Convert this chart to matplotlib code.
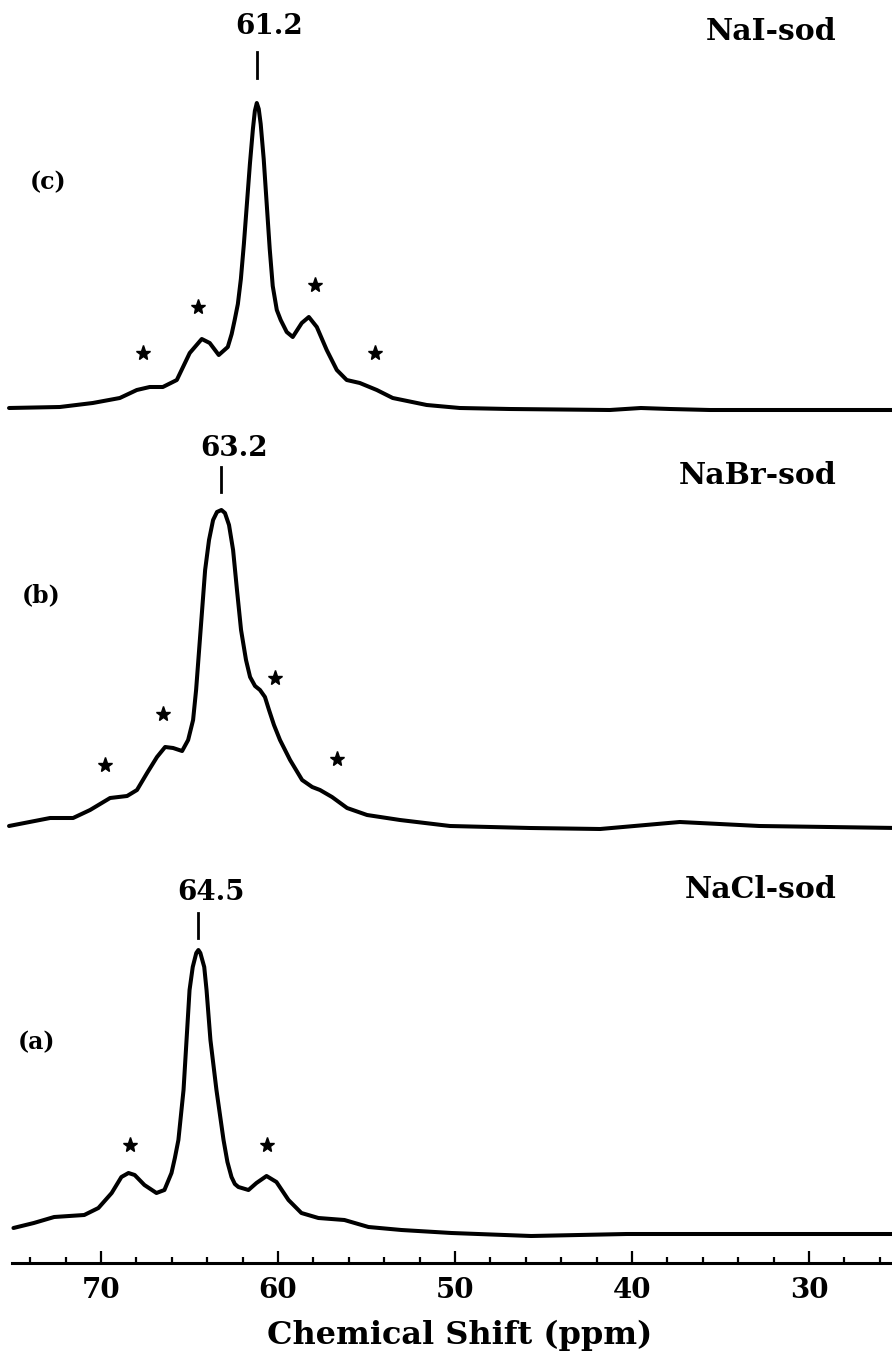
import matplotlib
matplotlib.use("Agg")
import matplotlib.pyplot as plt
from matplotlib.ticker import MultipleLocator

# --- spectra: chemical shift (ppm) and intensity (arbitrary units) ---
shift_a = [74.95, 73.80, 72.65, 70.95, 70.15, 69.40, 68.85, 68.45, 68.10, 67.55,
           66.87, 66.42, 66.02, 65.83, 65.63, 65.34, 65.17, 65.00, 64.82, 64.62,
           64.50, 64.39, 64.17, 64.04, 63.82, 63.48, 63.08, 62.86, 62.63, 62.44,
           62.24, 61.67, 61.22, 60.65, 60.09, 59.41, 58.68, 57.72, 56.25, 54.89,
           53.03, 50.20, 45.70, 40.30, 34.00, 25.00]
int_a = [12, 17, 23, 25, 32, 47, 63, 67, 65, 55,
         47, 50, 67, 82, 100, 150, 200, 250, 273, 287,
         290, 287, 273, 250, 200, 150, 100, 78, 63, 56,
         53, 50, 57, 64, 58, 40, 27, 22, 20, 13,
         10, 7, 4, 6, 6, 6]

shift_b = [75.20, 72.88, 71.58, 70.62, 69.49, 68.53, 67.97, 67.40, 66.84, 66.38,
           65.93, 65.42, 65.08, 64.80, 64.63, 64.46, 64.29, 64.12, 63.90, 63.67,
           63.45, 63.20, 63.00, 62.77, 62.54, 62.32, 62.09, 61.81, 61.58, 61.30,
           61.02, 60.74, 60.51, 60.23, 59.89, 59.32, 58.64, 58.07, 57.63, 56.95,
           56.10, 54.97, 53.11, 50.28, 45.76, 41.80, 37.30, 32.80, 25.00]
int_b = [6, 14, 14, 22, 34, 36, 42, 59, 75, 85,
         84, 81, 92, 112, 142, 182, 222, 262, 292, 312,
         320, 322, 319, 307, 282, 242, 202, 172, 155, 146,
         142, 135, 122, 107, 92, 72, 52, 45, 42, 35,
         24, 17, 12, 6, 4, 3, 10, 6, 4]

shift_c = [75.20, 72.33, 70.47, 68.94, 67.98, 67.25, 66.51, 65.72, 64.99, 64.31,
           63.86, 63.35, 62.84, 62.62, 62.45, 62.27, 62.10, 61.93, 61.76, 61.59,
           61.42, 61.31, 61.20, 61.09, 60.98, 60.81, 60.64, 60.47, 60.30, 60.07,
           59.85, 59.51, 59.17, 58.66, 58.26, 57.81, 57.25, 56.68, 56.12, 55.38,
           54.42, 53.52, 51.60, 49.73, 46.90, 41.25, 39.50, 37.85, 35.60, 29.95,
           25.00]
int_c = [6, 7, 11, 16, 24, 27, 27, 34, 61, 75,
         71, 59, 67, 80, 94, 110, 135, 170, 210, 250,
         285, 303, 311, 305, 290, 255, 210, 165, 128, 104,
         94, 82, 77, 91, 97, 87, 64, 44, 34, 31,
         24, 16, 9, 6, 5, 4, 6, 5, 4, 4,
         4]

peak_shifts = [64.5, 63.2, 61.2]
peak_labels = ["64.5", "63.2", "61.2"]
sample_names = ["NaCl-sod", "NaBr-sod", "NaI-sod"]
panel_tags = ["(a)", "(b)", "(c)"]

# spinning sidebands marked with asterisks: (ppm, height above axis)
sidebands = [
    [(68.34, 118), (60.60, 118)],
    [(69.77, 498), (66.50, 549), (60.17, 585), (56.67, 504)],
    [(67.64, 910), (64.53, 956), (57.92, 978), (54.53, 910)],
]

xtick_major = [70, 60, 50, 40, 30]

# --- layout ---
W, H = 892, 1360
fig = plt.figure(figsize=(W / 100, H / 100), dpi=100)
axis_px = 1263
ax = fig.add_axes([0, (H - axis_px) / H, 1, axis_px / H])
ax.set_xlim(75.71, 25.31)
ax.set_ylim(0, axis_px)


def px_to_ppm(x):
    return 70 - (x - 101) / 17.7


offsets = [23, 431, 849]
series = [(shift_a, int_a), (shift_b, int_b), (shift_c, int_c)]

font = dict(family="DejaVu Serif", fontweight="bold", color="black")

for (sx, sy), off in zip(series, offsets):
    ax.plot(sx, [v + off for v in sy], color="black", lw=2.9,
            solid_joinstyle="round", solid_capstyle="round")

marker_spans = [(325, 350), (771, 796), (1185, 1211)]
label_y = [371, 815, 1236]
name_y = [373, 788, 1231]
tag_x = [18, 22, 30]
tag_y = [221, 668, 1081]

for i in range(3):
    p = peak_shifts[i]
    lo, hi = marker_spans[i]
    ax.plot([p, p], [lo, hi], color="black", lw=2.0)
    ax.text(p - 0.7, label_y[i], peak_labels[i], ha="center", va="center",
            fontsize=20, **font)
    for sp, hy in sidebands[i]:
        ax.plot(sp, hy, marker="*", ms=11, color="black", mec="black")
    ax.text(px_to_ppm(837), name_y[i], sample_names[i], ha="right",
            va="center", fontsize=21.5, **font)
    ax.text(px_to_ppm(tag_x[i]), tag_y[i], panel_tags[i], ha="left",
            va="center", fontsize=17, **font)

# --- axis styling ---
for s in ["top", "left", "right"]:
    ax.spines[s].set_visible(False)
ax.spines["bottom"].set_linewidth(2.2)
ax.spines["bottom"].set_bounds(75.03, 25.31)
ax.set_yticks([])
ax.set_xticks(xtick_major)
ax.xaxis.set_minor_locator(MultipleLocator(2))
ax.tick_params(axis="x", which="major", direction="in", length=9, width=1.6,
               pad=10, labelsize=20)
ax.tick_params(axis="x", which="minor", direction="in", length=4, width=1.6)
for lab in ax.get_xticklabels():
    lab.set_fontfamily("DejaVu Serif")
    lab.set_fontweight("bold")
ax.set_xlabel("Chemical Shift (ppm)", fontsize=23, labelpad=10, **font)
ax.xaxis.set_label_coords(460 / W, -0.045)
ax.patch.set_visible(False)

fig.savefig("out.png", dpi=100)
